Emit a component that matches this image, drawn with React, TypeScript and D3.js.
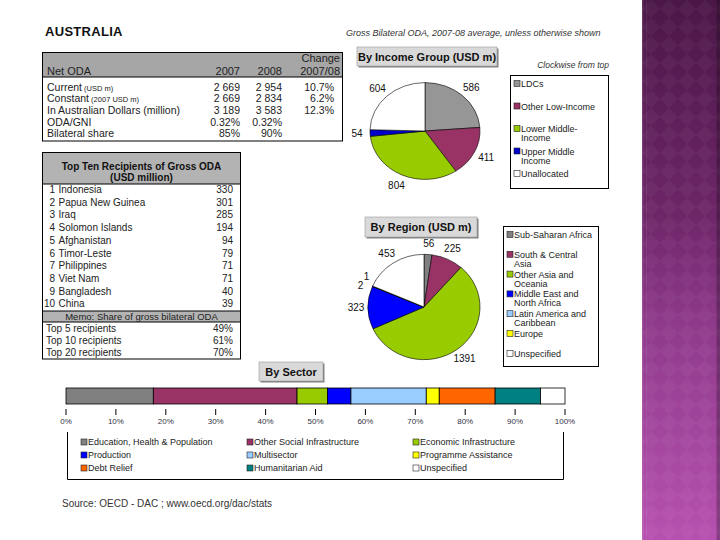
import React from 'react';
import * as d3 from 'd3';

const FONT = "'Liberation Sans', Arial, sans-serif";

// ---------- DATA ----------
const netOdaLabels = ['Current', 'Constant', 'In Australian Dollars (million)', 'ODA/GNI', 'Bilateral share'];
const netOdaUnits = ['(USD m)', '(2007 USD m)', '', '', ''];
const netOda2007 = ['2 669', '2 669', '3 189', '0.32%', '85%'];
const netOda2008 = ['2 954', '2 834', '3 583', '0.32%', '90%'];
const netOdaChange = ['10.7%', '6.2%', '12.3%', '', ''];

const recipients = ['Indonesia', 'Papua New Guinea', 'Iraq', 'Solomon Islands', 'Afghanistan', 'Timor-Leste', 'Philippines', 'Viet Nam', 'Bangladesh', 'China'];
const recipientValues = [330, 301, 285, 194, 94, 79, 71, 71, 40, 39];
const shareLabels = ['Top 5 recipients', 'Top 10 recipients', 'Top 20 recipients'];
const shareValues = ['49%', '61%', '70%'];

const incomeGroups = [['LDCs'], ['Other Low-Income'], ['Lower Middle-', 'Income'], ['Upper Middle', 'Income'], ['Unallocated']];
const incomeValues = [586, 411, 804, 54, 604];
const incomeColors = ['#969696', '#993366', '#99cc00', '#0000cc', '#ffffff'];

const regions = [['Sub-Saharan Africa'], ['South & Central', 'Asia'], ['Other Asia and', 'Oceania'], ['Middle East and', 'North Africa'], ['Latin America and', 'Caribbean'], ['Europe'], ['Unspecified']];
const regionValues = [56, 225, 1391, 323, 1, 2, 453];
const regionColors = ['#808080', '#993366', '#99cc00', '#0000ff', '#99ccff', '#ffff00', '#ffffff'];

const sectors = ['Education, Health & Population', 'Other Social Infrastructure', 'Economic Infrastructure', 'Production', 'Multisector', 'Programme Assistance', 'Debt Relief', 'Humanitarian Aid', 'Unspecified'];
const sectorShares = [17.5, 28.8, 6.1, 4.7, 15.1, 2.6, 11.2, 9.1, 4.9];
const sectorColors = ['#808080', '#993366', '#99cc00', '#0000ff', '#99ccff', '#ffff00', '#ff6600', '#008080', '#ffffff'];
const sectorTicks = [0, 10, 20, 30, 40, 50, 60, 70, 80, 90, 100];

// ---------- COMPONENTS ----------
type PieProps = { values: number[]; colors: string[]; cx: number; cy: number; r: number; ky: number; gap: number };

function Pie({ values, colors, cx, cy, r, ky, gap }: PieProps) {
  const arcs = d3.pie<number>().sort(null).value((d) => d)(values);
  const arcGen = d3.arc<d3.PieArcDatum<number>>().innerRadius(0).outerRadius(r);
  const labels: { x: number; y: number; t: string }[] = [];
  arcs.forEach((a, i) => {
    const mid = (a.startAngle + a.endAngle) / 2;
    let x = cx + (r + gap) * Math.sin(mid);
    let y = cy - (r + gap) * ky * Math.cos(mid);
    const prev = labels[labels.length - 1];
    if (prev && Math.hypot(x - prev.x, y - prev.y) < 9) {
      prev.x += 5;
      prev.y -= 5;
      x -= 1;
      y += 4;
    }
    labels.push({ x, y, t: String(values[i]) });
  });
  return (
    <g>
      <g transform={`translate(${cx},${cy}) scale(1,${ky})`}>
        {arcs.map((a, i) => (
          <path key={i} d={arcGen(a) || ''} fill={colors[i]} stroke="#000" strokeWidth={0.6} vectorEffect="non-scaling-stroke" />
        ))}
      </g>
      {labels.map((l, i) => (
        <text key={i} x={l.x} y={l.y} textAnchor="middle" dominantBaseline="central" fontSize={10} fill="#111">
          {l.t}
        </text>
      ))}
    </g>
  );
}

function TitleBox({ x, y, w, h, text }: { x: number; y: number; w: number; h: number; text: string }) {
  return (
    <g>
      <rect x={x + 1.5} y={y + 1.5} width={w} height={h} fill="#808080" />
      <rect x={x} y={y} width={w} height={h} fill="#d9d9d9" stroke="#9a9a9a" strokeWidth={0.6} />
      <text x={x + w / 2} y={y + h / 2 + 4} textAnchor="middle" fontSize={11} fontWeight="bold" fill="#111">
        {text}
      </text>
    </g>
  );
}

function Legend({ items, colors, x, y, w, h, step, top }: { items: string[][]; colors: string[]; x: number; y: number; w: number; h: number; step: number; top: number }) {
  return (
    <g>
      <rect x={x} y={y} width={w} height={h} fill="#fff" stroke="#000" strokeWidth={1} />
      {items.map((lines, i) => {
        const cy = y + top + i * step;
        return (
          <g key={i}>
            <rect x={x + 3.5} y={cy - 3} width={6} height={6} fill={colors[i]} stroke="#222" strokeWidth={0.6} />
            {lines.map((ln, j) => (
              <text key={j} x={x + 10.5} y={cy + 3.5 + j * 9} fontSize={9} fill="#222">
                {ln}
              </text>
            ))}
          </g>
        );
      })}
    </g>
  );
}

function NetOdaTable() {
  const x0 = 42.5, x1 = 342.5, y0 = 52.5, yh = 77, y1 = 141;
  const rowBase = d3.range(netOdaLabels.length).map((i) => 90.5 + i * 11.7);
  return (
    <g fontSize={10.5} fill="#222">
      <rect x={x0} y={y0} width={x1 - x0} height={yh - y0} fill="#a6a6a6" />
      <rect x={x0} y={y0} width={x1 - x0} height={y1 - y0} fill="none" stroke="#000" strokeWidth={1} />
      <line x1={x0} x2={x1} y1={yh} y2={yh} stroke="#000" strokeWidth={1} />
      <text x={47} y={74.5} fontSize={11}>Net ODA</text>
      <text x={240} y={74.5} textAnchor="end" fontSize={11}>2007</text>
      <text x={282} y={74.5} textAnchor="end" fontSize={11}>2008</text>
      <text x={340} y={62} textAnchor="end" fontSize={11}>Change</text>
      <text x={340} y={74.5} textAnchor="end" fontSize={11}>2007/08</text>
      {netOdaLabels.map((l, i) => (
        <g key={i}>
          <text x={47} y={rowBase[i]}>
            {l}
            {netOdaUnits[i] ? <tspan fontSize={7.5}>{' ' + netOdaUnits[i]}</tspan> : null}
          </text>
          <text x={240} y={rowBase[i]} textAnchor="end">{netOda2007[i]}</text>
          <text x={282} y={rowBase[i]} textAnchor="end">{netOda2008[i]}</text>
          <text x={334} y={rowBase[i]} textAnchor="end">{netOdaChange[i]}</text>
        </g>
      ))}
    </g>
  );
}

function RecipientsTable() {
  const x0 = 42.5, x1 = 240.5, y0 = 152.5, yh = 184, ym0 = 311, ym1 = 322, y1 = 359;
  const rowBase = d3.range(recipients.length).map((i) => 193 + i * 12.7);
  const shareBase = d3.range(shareLabels.length).map((i) => 332 + i * 12);
  return (
    <g fontSize={10} fill="#222">
      <rect x={x0} y={y0} width={x1 - x0} height={yh - y0} fill="#b3b3b3" />
      <rect x={x0} y={ym0} width={x1 - x0} height={ym1 - ym0} fill="#b3b3b3" />
      <rect x={x0} y={y0} width={x1 - x0} height={y1 - y0} fill="none" stroke="#000" strokeWidth={1} />
      <line x1={x0} x2={x1} y1={yh} y2={yh} stroke="#000" strokeWidth={1} />
      <line x1={x0} x2={x1} y1={ym0} y2={ym0} stroke="#000" strokeWidth={1} />
      <line x1={x0} x2={x1} y1={ym1} y2={ym1} stroke="#000" strokeWidth={1} />
      <text x={141.5} y={170} textAnchor="middle" fontWeight="bold" fill="#111">Top Ten Recipients of Gross ODA</text>
      <text x={141.5} y={181} textAnchor="middle" fontWeight="bold" fill="#111">(USD million)</text>
      {recipients.map((r, i) => (
        <g key={i}>
          <text x={55} y={rowBase[i]} textAnchor="end">{i + 1}</text>
          <text x={58.5} y={rowBase[i]}>{r}</text>
          <text x={233} y={rowBase[i]} textAnchor="end">{recipientValues[i]}</text>
        </g>
      ))}
      <text x={141.5} y={319.5} textAnchor="middle" fontSize={9.5}>Memo:  Share of gross bilateral ODA</text>
      {shareLabels.map((s, i) => (
        <g key={i}>
          <text x={46} y={shareBase[i]}>{s}</text>
          <text x={233} y={shareBase[i]} textAnchor="end">{shareValues[i]}</text>
        </g>
      ))}
    </g>
  );
}

function SectorBar() {
  const x = d3.scaleLinear().domain([0, 100]).range([66, 565]);
  const ends = Array.from(d3.cumsum(sectorShares));
  const y0 = 388, y1 = 404;
  const cols = [84, 250, 416];
  const rows = [442, 455, 468];
  return (
    <g>
      <TitleBox x={259} y={362} w={64} h={19} text="By Sector" />
      {sectorShares.map((s, i) => (
        <rect key={i} x={x(ends[i] - s)} y={y0} width={x(ends[i]) - x(ends[i] - s)} height={y1 - y0} fill={sectorColors[i]} stroke="#000" strokeWidth={0.8} />
      ))}
      {sectorTicks.map((t) => (
        <g key={t}>
          <line x1={x(t)} x2={x(t)} y1={409} y2={415} stroke="#000" strokeWidth={1} />
          <text x={x(t)} y={424} textAnchor="middle" fontSize={8} fill="#334">{t + '%'}</text>
        </g>
      ))}
      <path d={`M67.5,432 V479.5 H563.5 V432`} fill="none" stroke="#000" strokeWidth={1} />
      {sectors.map((s, i) => {
        const cx = cols[i % 3], cy = rows[Math.floor(i / 3)];
        return (
          <g key={i}>
            <rect x={cx - 3} y={cy - 3} width={6} height={6} fill={sectorColors[i]} stroke="#222" strokeWidth={0.6} />
            <text x={cx + 4} y={cy + 3.2} fontSize={9} fill="#222">{s}</text>
          </g>
        );
      })}
    </g>
  );
}

function PurplePanel() {
  return (
    <g>
      <defs>
        <linearGradient id="purp" x1="0" y1="0" x2="0" y2="1">
          <stop offset="0" stopColor="#4b1747" />
          <stop offset="0.4" stopColor="#6e2669" />
          <stop offset="0.6" stopColor="#8f3a8b" />
          <stop offset="1" stopColor="#b651b0" />
        </linearGradient>
        <pattern id="diam" width="18" height="18" patternUnits="userSpaceOnUse" x="642">
          <path d="M9,0 L18,9 L9,18 L0,9 Z" fill="#ffffff" fillOpacity={0.035} />
        </pattern>
      </defs>
      <rect x={642} y={0} width={78} height={540} fill="url(#purp)" />
      <rect x={642} y={0} width={78} height={540} fill="url(#diam)" />
      <rect x={642} y={0} width={1.5} height={540} fill="#ffffff" fillOpacity={0.12} />
      <rect x={646} y={0} width={1} height={540} fill="#ffffff" fillOpacity={0.08} />
      <rect x={716.5} y={0} width={3.5} height={540} fill="#000" fillOpacity={0.25} />
    </g>
  );
}

export default function App() {
  return (
    <svg width={720} height={540} style={{ position: 'absolute', left: 0, top: 0 }} fontFamily={FONT}>
      <rect x={0} y={0} width={720} height={540} fill="#fff" />
      <PurplePanel />
      <text x={45} y={36} fontSize={13} fontWeight="bold" fill="#111" letterSpacing={0.3}>AUSTRALIA</text>
      <text x={346} y={36} fontSize={9} fontStyle="italic" fill="#333">Gross Bilateral ODA, 2007-08 average, unless otherwise shown</text>
      <text x={609} y={68} fontSize={8.5} fontStyle="italic" fill="#333" textAnchor="end">Clockwise from top</text>
      <NetOdaTable />
      <RecipientsTable />
      <TitleBox x={357} y={47} w={140} h={19} text="By Income Group (USD m)" />
      <Pie values={incomeValues} colors={incomeColors} cx={425} cy={131} r={55} ky={0.88} gap={13} />
      <Legend items={incomeGroups} colors={incomeColors} x={510.5} y={75.5} w={98} h={113} step={22.5} top={8} />
      <TitleBox x={365} y={217} w={112} h={20} text="By Region (USD m)" />
      <Pie values={regionValues} colors={regionColors} cx={424} cy={307} r={56} ky={0.94} gap={12} />
      <Legend items={regions} colors={regionColors} x={503.5} y={226.5} w={95} h={140} step={19.8} top={8} />
      <SectorBar />
      <text x={62} y={507} fontSize={10} fill="#333">Source:  OECD - DAC ; www.oecd.org/dac/stats</text>
    </svg>
  );
}
